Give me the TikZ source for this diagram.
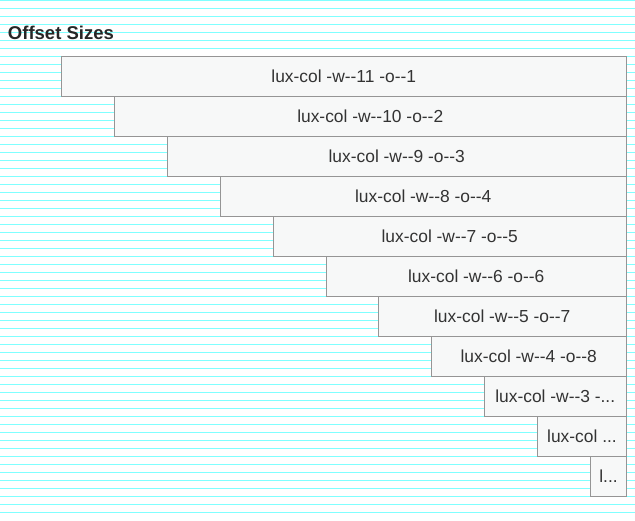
\documentclass[tikz,border=0pt]{standalone}
\usepackage{fontspec}
\setmainfont{Liberation Sans}[Ligatures=TeXOff]
\definecolor{stripe}{HTML}{80FFFF}
\definecolor{cellfill}{HTML}{F7F8F8}
\definecolor{cellline}{HTML}{959595}
\definecolor{celltext}{HTML}{333333}

\begin{document}
\begin{tikzpicture}[
  x=1pt, y=-1pt,
  every node/.style={inner sep=0pt, outer sep=0pt},
  cell/.style={draw=cellline, fill=cellfill, line width=1pt, minimum height=40pt,
    anchor=north east, text=celltext, font=\fontsize{17.4}{20}\selectfont},
  title/.style={anchor=base west, text=black!85, font=\bfseries\fontsize{18.5}{22}\selectfont}
]
\useasboundingbox (0,0) rectangle (635,520);
% background stripes
\foreach \k in {0,...,64}
  \draw[stripe, line width=1pt] (0,8*\k+0.5) -- (635,8*\k+0.5);
\node[title] (title) at (8,39) {Offset Sizes};
% offset cells
\node[cell, minimum width=565.5pt] (c1) at (626.5,56) {lux-col -w--11 -o--1};
\node[cell, minimum width=512.5pt] (c2) at (c1.south east) {lux-col -w--10 -o--2};
\node[cell, minimum width=459.5pt] (c3) at (c2.south east) {lux-col -w--9 -o--3};
\node[cell, minimum width=406.5pt] (c4) at (c3.south east) {lux-col -w--8 -o--4};
\node[cell, minimum width=353.5pt] (c5) at (c4.south east) {lux-col -w--7 -o--5};
\node[cell, minimum width=300.5pt] (c6) at (c5.south east) {lux-col -w--6 -o--6};
\node[cell, minimum width=248.5pt] (c7) at (c6.south east) {lux-col -w--5 -o--7};
\node[cell, minimum width=195.5pt] (c8) at (c7.south east) {lux-col -w--4 -o--8};
\node[cell, minimum width=142.5pt] (c9) at (c8.south east) {lux-col -w--3 -...};
\node[cell, minimum width=89pt] (c10) at (c9.south east) {lux-col ...};
\node[cell, minimum width=36pt] (c11) at (c10.south east) {l...};
\end{tikzpicture}
\end{document}
